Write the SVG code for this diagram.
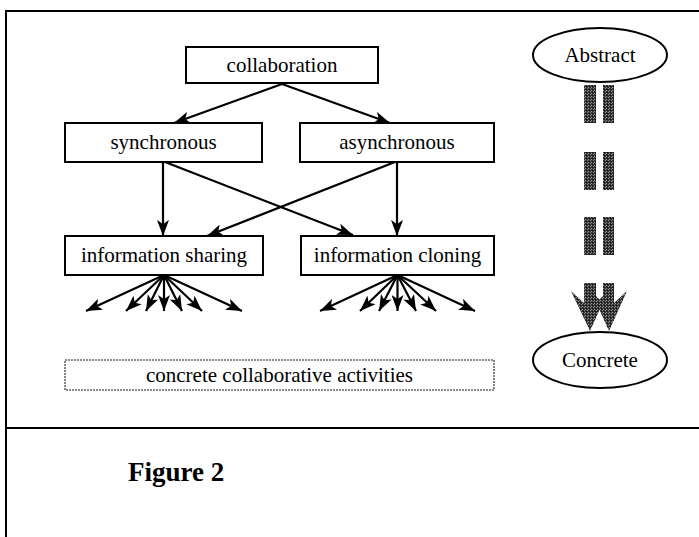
<svg xmlns="http://www.w3.org/2000/svg" width="699" height="537" viewBox="0 0 699 537">
  <defs>
    <style>
      .frame { stroke: #000; stroke-width: 2; fill: none; }
      .box { fill: #fff; stroke: #000; stroke-width: 2; }
      .soft { fill: #fff; stroke: #666; stroke-width: 1.6; stroke-dasharray: 2 1; }
      .lbl { font-family: "Liberation Serif", "Times New Roman", serif; font-size: 21px; fill: #000; text-anchor: middle; }
      .cap { font-family: "Liberation Serif", "Times New Roman", serif; font-size: 27px; font-weight: bold; fill: #000; }
      .edge { stroke: #000; stroke-width: 2.2; fill: none; marker-end: url(#ah); }
      .flow { fill: url(#stipple); }
    </style>
    <marker id="ah" viewBox="0 0 16 12" refX="16" refY="6" markerWidth="16" markerHeight="12" markerUnits="userSpaceOnUse" orient="auto">
      <path d="M0,0 L16,6 L0,12 L4,6 z" fill="#000"/>
    </marker>
    <pattern id="stipple" width="3" height="3" patternUnits="userSpaceOnUse">
      <rect width="3" height="3" fill="#333"/>
      <rect x="0" y="0" width="1" height="1" fill="#999"/>
      <rect x="2" y="1" width="1" height="1" fill="#888"/>
      <rect x="1" y="2" width="1" height="1" fill="#111"/>
    </pattern>
  </defs>

  <!-- page frame and divider -->
  <g id="frame">
    <path class="frame" d="M6,537 V11 H699"/>
    <line class="frame" x1="6" y1="428" x2="699" y2="428"/>
  </g>

  <!-- hierarchy nodes -->
  <g id="collaboration">
    <rect class="box" x="186" y="47" width="192" height="36"/>
    <text class="lbl" x="282" y="72">collaboration</text>
  </g>
  <g id="synchronous">
    <rect class="box" x="65" y="123" width="197" height="39"/>
    <text class="lbl" x="163.5" y="149">synchronous</text>
  </g>
  <g id="asynchronous">
    <rect class="box" x="300" y="123" width="194" height="39"/>
    <text class="lbl" x="397" y="149">asynchronous</text>
  </g>
  <g id="information-sharing">
    <rect class="box" x="65" y="236" width="198" height="39"/>
    <text class="lbl" x="164" y="262">information sharing</text>
  </g>
  <g id="information-cloning">
    <rect class="box" x="301" y="236" width="193" height="39"/>
    <text class="lbl" x="397.5" y="262">information cloning</text>
  </g>
  <g id="concrete-activities">
    <rect class="soft" x="65" y="360" width="429" height="30"/>
    <text class="lbl" x="279.5" y="382">concrete collaborative activities</text>
  </g>

  <!-- scale of abstraction -->
  <g id="abstract">
    <ellipse class="box" cx="600" cy="55" rx="67" ry="27"/>
    <text class="lbl" x="600" y="62">Abstract</text>
  </g>
  <g id="concrete">
    <ellipse class="box" cx="600" cy="360" rx="67" ry="28"/>
    <text class="lbl" x="600" y="367">Concrete</text>
  </g>

  <g id="connectors">
    <line class="edge" x1="282" y1="84" x2="174" y2="123"/>
    <line class="edge" x1="282" y1="84" x2="390" y2="123"/>
    <line class="edge" x1="163" y1="162" x2="163" y2="236"/>
    <line class="edge" x1="165" y1="162" x2="353" y2="235"/>
    <line class="edge" x1="395" y1="162" x2="207" y2="236"/>
    <line class="edge" x1="397" y1="162" x2="397" y2="236"/>

    <!-- fan-out towards concrete activities -->
    <g id="fan-sharing">
      <line class="edge" x1="164" y1="275" x2="86" y2="311"/>
      <line class="edge" x1="164" y1="275" x2="126" y2="311"/>
      <line class="edge" x1="164" y1="275" x2="146" y2="311"/>
      <line class="edge" x1="164" y1="275" x2="164" y2="311"/>
      <line class="edge" x1="164" y1="275" x2="182" y2="311"/>
      <line class="edge" x1="164" y1="275" x2="202" y2="311"/>
      <line class="edge" x1="164" y1="275" x2="242" y2="311"/>
    </g>
    <g id="fan-cloning">
      <line class="edge" x1="397.5" y1="275" x2="320" y2="311"/>
      <line class="edge" x1="397.5" y1="275" x2="360" y2="311"/>
      <line class="edge" x1="397.5" y1="275" x2="379" y2="311"/>
      <line class="edge" x1="397.5" y1="275" x2="397.5" y2="311"/>
      <line class="edge" x1="397.5" y1="275" x2="416" y2="311"/>
      <line class="edge" x1="397.5" y1="275" x2="436" y2="311"/>
      <line class="edge" x1="397.5" y1="275" x2="475" y2="311"/>
    </g>

    <!-- broken double arrow from Abstract down to Concrete -->
    <g id="abstraction-arrow">
      <rect class="flow" x="584" y="85" width="12" height="38"/>
      <rect class="flow" x="603" y="85" width="11" height="38"/>
      <rect class="flow" x="584" y="152" width="12" height="38"/>
      <rect class="flow" x="603" y="152" width="11" height="38"/>
      <rect class="flow" x="584" y="217" width="12" height="38"/>
      <rect class="flow" x="603" y="217" width="11" height="38"/>
      <path class="flow" d="M584,283 H596 V303 L608,291 L590,331 L571,291 L584,303 Z"/>
      <path class="flow" d="M603,283 H614 V303 L627,291 L609,331 L591,291 L603,303 Z"/>
    </g>
  </g>

  <g id="caption">
    <text class="cap" x="128" y="481">Figure 2</text>
  </g>
</svg>
